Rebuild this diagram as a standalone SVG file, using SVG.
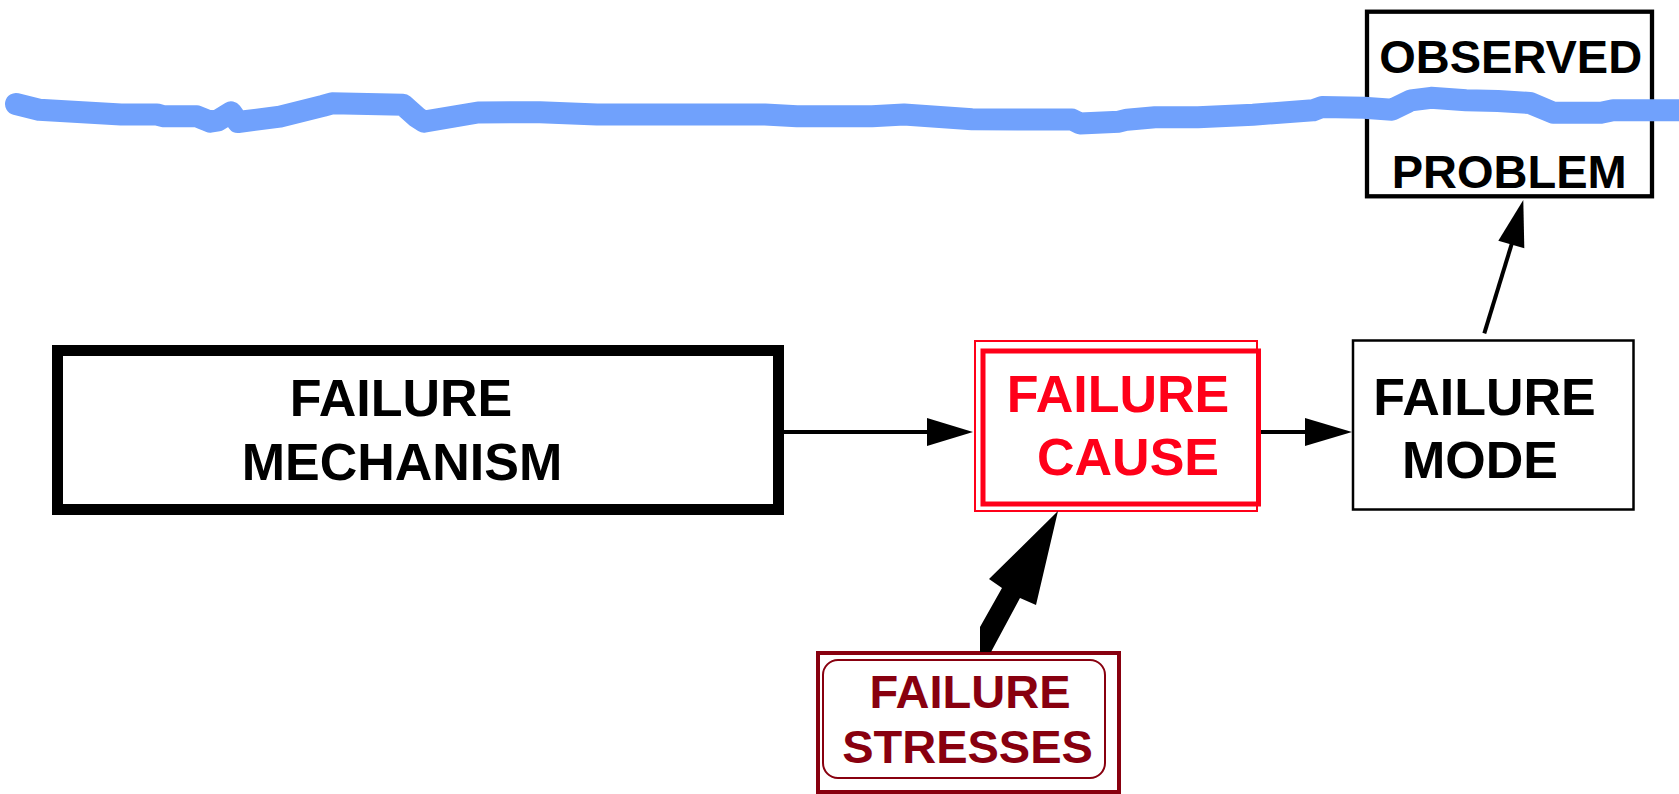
<svg xmlns="http://www.w3.org/2000/svg" width="1679" height="794" viewBox="0 0 1679 794">
<style>
.t{font-family:"Liberation Sans",Arial,Helvetica,sans-serif;font-weight:bold;text-anchor:middle}
.blk{fill:#000}
.red{fill:#FF0019}
.dred{fill:#88000F}
</style>
<rect width="1679" height="794" fill="#fff"/>
<g id="mechanism">
<rect x="57.5" y="350.5" width="721" height="159" fill="#fff" stroke="#000" stroke-width="11"/>
<text class="t blk" x="401" y="416" font-size="52">FAILURE</text>
<text class="t blk" x="402" y="480" font-size="52">MECHANISM</text>
</g>
<g id="cause">
<rect x="975" y="341" width="282" height="170" fill="#fff" stroke="#FF0019" stroke-width="2"/>
<rect x="983" y="351" width="275.5" height="153" fill="none" stroke="#FF0019" stroke-width="5"/>
<text class="t red" x="1118" y="411.5" font-size="52">FAILURE</text>
<text class="t red" x="1128" y="475" font-size="52">CAUSE</text>
</g>
<g id="mode">
<rect x="1353" y="340.5" width="280.5" height="169" fill="#fff" stroke="#000" stroke-width="2.5"/>
<text class="t blk" x="1484.5" y="415" font-size="52">FAILURE</text>
<text class="t blk" x="1480" y="478.3" font-size="52">MODE</text>
</g>
<g id="observed">
<rect x="1367" y="11.7" width="285" height="184.6" fill="#fff" stroke="#000" stroke-width="4.3"/>
<text class="t blk" x="1510.7" y="73.3" font-size="47">OBSERVED</text>
<text class="t blk" x="1509.2" y="188.3" font-size="47">PROBLEM</text>
</g>
<g id="stresses">
<rect x="818" y="653" width="301" height="139" fill="#fff" stroke="#88000F" stroke-width="4"/>
<rect x="823" y="660" width="282" height="118" rx="15" ry="15" fill="none" stroke="#88000F" stroke-width="2"/>
<text class="t dred" x="970" y="708.3" font-size="47">FAILURE</text>
<text class="t dred" x="967.5" y="763.3" font-size="47">STRESSES</text>
</g>
<g id="connectors">
<line x1="784" y1="432" x2="930" y2="432" stroke="#000" stroke-width="4"/>
<polygon points="973,432 927,418 927,446" fill="#000"/>
<line x1="1261" y1="432" x2="1308" y2="432" stroke="#000" stroke-width="4"/>
<polygon points="1352,432 1305,418 1305,446" fill="#000"/>
<line x1="1484.3" y1="333.3" x2="1512" y2="243" stroke="#000" stroke-width="4"/>
<polygon points="1523.3,200 1498.3,240.7 1524.3,248.3" fill="#000"/>
<polygon points="980,652 980,627 1002,588 989,579 1058,511 1036,605 1020,598 991,652" fill="#000"/>
</g>
<g id="boundary">
<polyline points="16,104 39,109.7 121,114.5 157,114.5 164,116.3 197,116.3 210,121.7 218,120.3 231,112.3 238,122 280,116.7 323,105.8 332,103.3 403,104.7 417,117.3 424,121.7 478,112.5 540,112.2 597,114.5 765,114.5 797,116.3 872,116.3 904,114.5 972,119.3 1072,119.5 1080,123.5 1119,121.7 1127,119.7 1155,117.2 1198,117.2 1253,114.7 1313,110.3 1322,107 1364,107.8 1392,109.7 1411,100.3 1431,97.8 1466,100.3 1498,101 1530,103 1553,112.7 1601,112.7 1613,110.3 1690,110.3" fill="none" stroke="#70A1FC" stroke-width="22" stroke-linecap="round" stroke-linejoin="round"/>
</g>
</svg>
